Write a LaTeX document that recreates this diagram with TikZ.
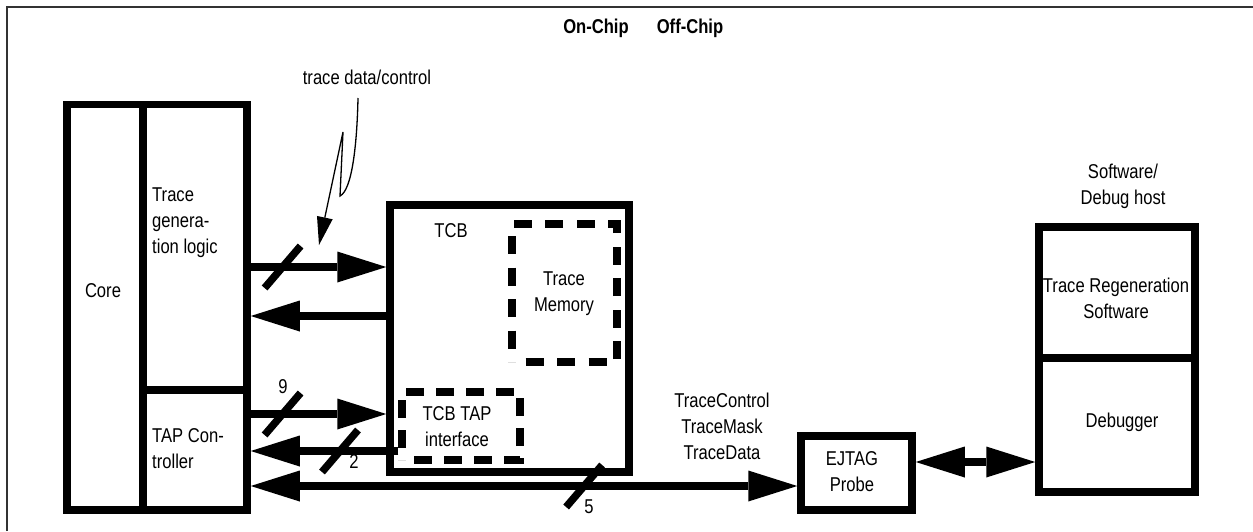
\documentclass[tikz,border=0pt]{standalone}
\usepackage{fontspec}
\setmainfont{Liberation Sans}[FakeStretch=0.83]
\usepackage{tikz}
\usetikzlibrary{arrows.meta,decorations}

\tikzset{
  blk/.style={draw, line width=7.5pt, inner sep=0pt},
  dashblk/.style={draw, line width=7.5pt, inner sep=0pt, dash pattern=on 18pt off 12pt, dash expand off},
  bus/.style={line width=7.5pt, -{Triangle[length=49pt,width=31pt,line width=0pt]}},
  dbus/.style={line width=7.5pt, {Triangle[length=49pt,width=31pt,line width=0pt]}-{Triangle[length=49pt,width=31pt,line width=0pt]}},
  slashline/.style={line width=7.5pt},
  txt/.style={font=\fontsize{20}{26}\selectfont, inner sep=0pt}
}
\newcommand{\busslash}[1]{\draw[slashline] (#1) ++(-18,21) -- ++(36,-42);}

\begin{document}
\begin{tikzpicture}[x=1pt, y=-1pt]
\useasboundingbox (0,0) rectangle (1253,531);
\fill[white] (0,0) rectangle (1253,531);
\draw[black!80, line width=2pt] (7,531) -- (7,6.5) -- (1253,6.5);

\node[txt, font=\fontsize{20}{26}\selectfont\bfseries, anchor=base] (onchip) at (596,33) {On-Chip};
\node[txt, font=\fontsize{20}{26}\selectfont\bfseries, anchor=base] (offchip) at (690,33) {Off-Chip};

% chip side
\node[blk, minimum width=76pt, minimum height=405.5pt] (core) at (105,307.25) {};
\node[blk, minimum width=104pt, minimum height=285.5pt] (tracegen) at (195,247.25) {};
\node[blk, minimum width=104pt, minimum height=120pt] (tapctrl) at (195,450) {};
\node[txt, anchor=base] (corelbl) at (103,297) {Core};
\node[txt, anchor=base west, align=left] (tracegenlbl) at (152,253) {Trace\\genera-\\tion logic};
\node[txt, anchor=base west, align=left] (tapctrllbl) at (152,468) {TAP Con-\\troller};

\node[blk, minimum width=239pt, minimum height=267pt] (tcb) at (509.5,338.5) {};
\node[txt, anchor=base] (tcblbl) at (451,237) {TCB};
\node[dashblk, minimum width=105pt, minimum height=138pt] (tracemem) at (564.5,293) {};
\node[txt, anchor=base, align=center] (tracememlbl) at (564,311) {Trace\\Memory};
\node[dashblk, minimum width=118pt, minimum height=68pt] (tcbtap) at (461,426) {};
\node[txt, anchor=base, align=center] (tcbtaplbl) at (457,446) {TCB TAP\\interface};

% off-chip side
\node[blk, minimum width=111pt, minimum height=74pt] (ejtag) at (856.5,473) {};
\node[txt, anchor=base, align=center] (ejtaglbl) at (852,491) {EJTAG\\Probe};
\node[blk, minimum width=156pt, minimum height=131pt] (regen) at (1117,292.5) {};
\node[blk, minimum width=156pt, minimum height=134pt] (debugger) at (1117,425) {};
\node[txt, anchor=base, align=center] (regenlbl) at (1116,318) {Trace Regeneration\\Software};
\node[txt, anchor=base] (debuggerlbl) at (1122,427) {Debugger};
\node[txt, anchor=base, align=center] (hostlbl) at (1123,204) {Software/\\Debug host};
\node[txt, anchor=base, align=center] (siglbl) at (722,459) {TraceControl\\TraceMask\\TraceData};

% buses
\draw[bus] (tracegen.east |- 0,267) -- coordinate[pos=0.235] (s1) (tcb.west |- 0,267);
\draw[bus] (tcb.west |- 0,316) -- (tracegen.east |- 0,316);
\draw[bus] (tapctrl.east |- 0,414) -- coordinate[pos=0.235] (s9) (tcb.west |- 0,414);
\draw[bus] (tcbtap.west |- 0,451) -- coordinate[pos=0.395] (s2) (tapctrl.east |- 0,451);
\draw[dbus] (tapctrl.east |- 0,486) -- coordinate[pos=0.61] (s5) (ejtag.west |- 0,486);
\draw[dbus] (ejtag.east |- 0,462) -- (debugger.west |- 0,462);
\busslash{s1}
\busslash{s9}
\busslash{s2}
\busslash{s5}
\node[txt, anchor=base] (w9) at (283,393) {9};
\node[txt, anchor=base] (w2) at (354,468) {2};
\node[txt, anchor=base] (w5) at (589,513) {5};

% callout
\node[txt, anchor=base] (tdc) at (367,84) {trace data/control};
\coordinate (calloutstart) at (358,98);
\coordinate (callouttip) at (319,245);
\draw[line width=1.3pt, -{Triangle[length=28pt,width=16pt,line width=0pt]}] (calloutstart) .. controls (357,145) and (352,190) .. (340,196) -- (343,132) -- (callouttip);
\end{tikzpicture}
\end{document}
